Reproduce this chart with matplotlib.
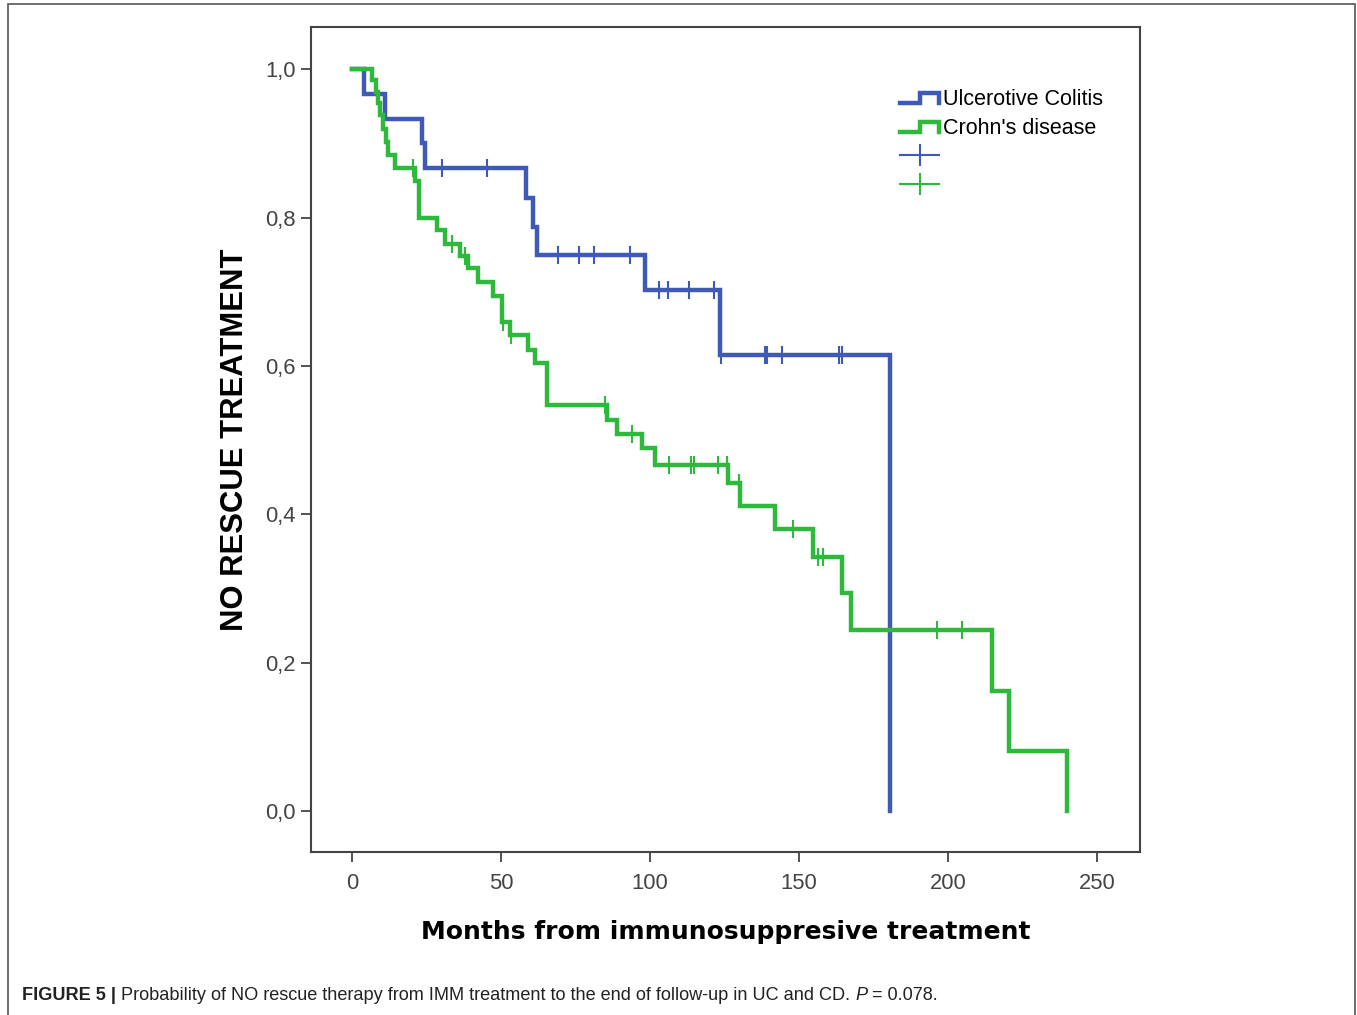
import numpy as np
import matplotlib
matplotlib.use("Agg")
import matplotlib.pyplot as plt
from matplotlib.lines import Line2D
from matplotlib.legend_handler import HandlerBase
from matplotlib.patches import Rectangle
from matplotlib.ticker import FuncFormatter

# Kaplan-Meier steps: (months, survival after the event)
uc_times = [0, 4.0, 11.1, 23.5, 24.5, 58.4, 60.7, 62.1, 98.3, 123.5, 180.5]
uc_surv = [1.0, 0.967, 0.933, 0.900, 0.867, 0.827, 0.788, 0.750, 0.702, 0.615, 0.0]
uc_censor = [30.2, 45.3, 69.1, 76.2, 81.2, 93.3, 103.0, 106.0, 113.1, 121.5,
             123.8, 138.6, 139.3, 144.3, 163.4, 164.4]

cd_times = [0, 6.7, 8.1, 8.7, 9.4, 10.4, 11.4, 12.1, 14.4, 21.1, 22.5, 28.5,
            31.2, 36.2, 38.9, 42.3, 47.3, 50.3, 53.0, 59.1, 61.4, 65.4, 85.6,
            88.9, 97.3, 101.7, 126.2, 130.2, 141.9, 154.7, 164.4, 167.4, 214.8,
            220.5, 239.9]
cd_surv = [1.0, 0.985, 0.969, 0.954, 0.938, 0.920, 0.902, 0.884, 0.867, 0.850,
           0.800, 0.783, 0.765, 0.749, 0.732, 0.713, 0.695, 0.659, 0.642, 0.621,
           0.604, 0.547, 0.527, 0.509, 0.489, 0.466, 0.442, 0.411, 0.380, 0.342,
           0.294, 0.244, 0.162, 0.081, 0.0]
cd_censor = [20.5, 33.6, 37.9, 50.7, 53.3, 84.9, 94.0, 106.4, 113.8, 114.8,
             122.8, 125.8, 129.9, 148.0, 156.4, 158.0, 196.3, 204.7]

labels = ["Ulcerotive Colitis", "Crohn's disease"]
blue = "#3F5AB6"
green = "#2EB83C"


def surv_at(times, surv, t):
    idx = np.searchsorted(times, t, side="right") - 1
    return np.array(surv)[idx]


class StepHandler(HandlerBase):
    def create_artists(self, legend, orig_handle, xdescent, ydescent,
                       width, height, fontsize, trans):
        x = np.array([0, 0.5, 0.5, 1, 1]) * width - xdescent
        y = np.array([0.15, 0.15, 0.8, 0.8, 0.15]) * height - ydescent
        ln = Line2D(x, y, color=orig_handle.get_color(),
                    lw=orig_handle.get_linewidth(), transform=trans,
                    solid_joinstyle="miter")
        return [ln]


plt.rcParams["font.family"] = ["Liberation Sans", "DejaVu Sans"]

fig = plt.figure(figsize=(13.57, 10.15), dpi=100)
fig.patches.append(Rectangle((8 / 1357, -0.1), (1355 - 8) / 1357, 1.1 - 4 / 1015,
                             transform=fig.transFigure, fill=False,
                             edgecolor="#555555", lw=1.2))

ax = fig.add_axes([311 / 1357, 1 - 852 / 1015, (1140 - 311) / 1357, (852 - 27) / 1015])

ax.step(uc_times, uc_surv, where="post", color=blue, lw=3.2, solid_joinstyle="miter")
ax.step(cd_times, cd_surv, where="post", color=green, lw=3.2, solid_joinstyle="miter")
ax.plot(uc_censor, surv_at(uc_times, uc_surv, uc_censor), ls="none", marker="|",
        ms=13, mew=1.5, color=blue)
ax.plot(cd_censor, surv_at(cd_times, cd_surv, cd_censor), ls="none", marker="|",
        ms=13, mew=1.5, color=green)

ax.set_xlim(-13.8, 264.4)
ax.set_ylim(-0.055, 1.057)
ax.set_xticks([0, 50, 100, 150, 200, 250])
ax.set_yticks([0, 0.2, 0.4, 0.6, 0.8, 1.0])
ax.yaxis.set_major_formatter(FuncFormatter(lambda v, p: f"{v:.1f}".replace(".", ",")))
ax.tick_params(direction="out", length=7, width=1.3, color="#444444",
               labelsize=15.8, labelcolor="#444444")
ax.tick_params(axis="x", pad=8)
ax.tick_params(axis="y", pad=4)
for s in ax.spines.values():
    s.set_color("#444444")
    s.set_linewidth(1.5)

ax.set_xlabel("Months from immunosuppresive treatment", family="DejaVu Sans",
              fontweight="bold", fontsize=18, labelpad=19)
ax.set_ylabel("NO RESCUE TREATMENT", fontweight="bold", fontsize=22.3, labelpad=11)

handles = [Line2D([], [], color=blue, lw=3.2), Line2D([], [], color=green, lw=3.2),
           Line2D([], [], color=blue, lw=1.5, marker="|", ms=16, mew=1.5),
           Line2D([], [], color=green, lw=1.5, marker="|", ms=16, mew=1.5)]
leg = ax.legend(handles, labels + ["", ""], loc="upper left",
                bbox_to_anchor=(0.710, 0.925), frameon=False, fontsize=15.5,
                handlelength=1.85, handletextpad=0.15, labelspacing=0.37,
                borderpad=0, borderaxespad=0,
                handler_map={handles[0]: StepHandler(), handles[1]: StepHandler()})

# caption, pieced together so each part can have its own weight/style
renderer = fig.canvas.get_renderer()
parts = [("FIGURE 5 | ", dict(fontweight="bold")),
         ("Probability of NO rescue therapy from IMM treatment to the end of follow-up in UC and CD. ", {}),
         ("P", dict(style="italic")),
         (" = 0.078.", {})]
x = 22 / 1357
for txt, kw in parts:
    t = fig.text(x, 1 - 995 / 1015, txt, fontsize=13.1, color="#222222", va="center", **kw)
    bb = t.get_window_extent(renderer)
    x += bb.width / fig.bbox.width

fig.savefig("out.png", dpi=100)
